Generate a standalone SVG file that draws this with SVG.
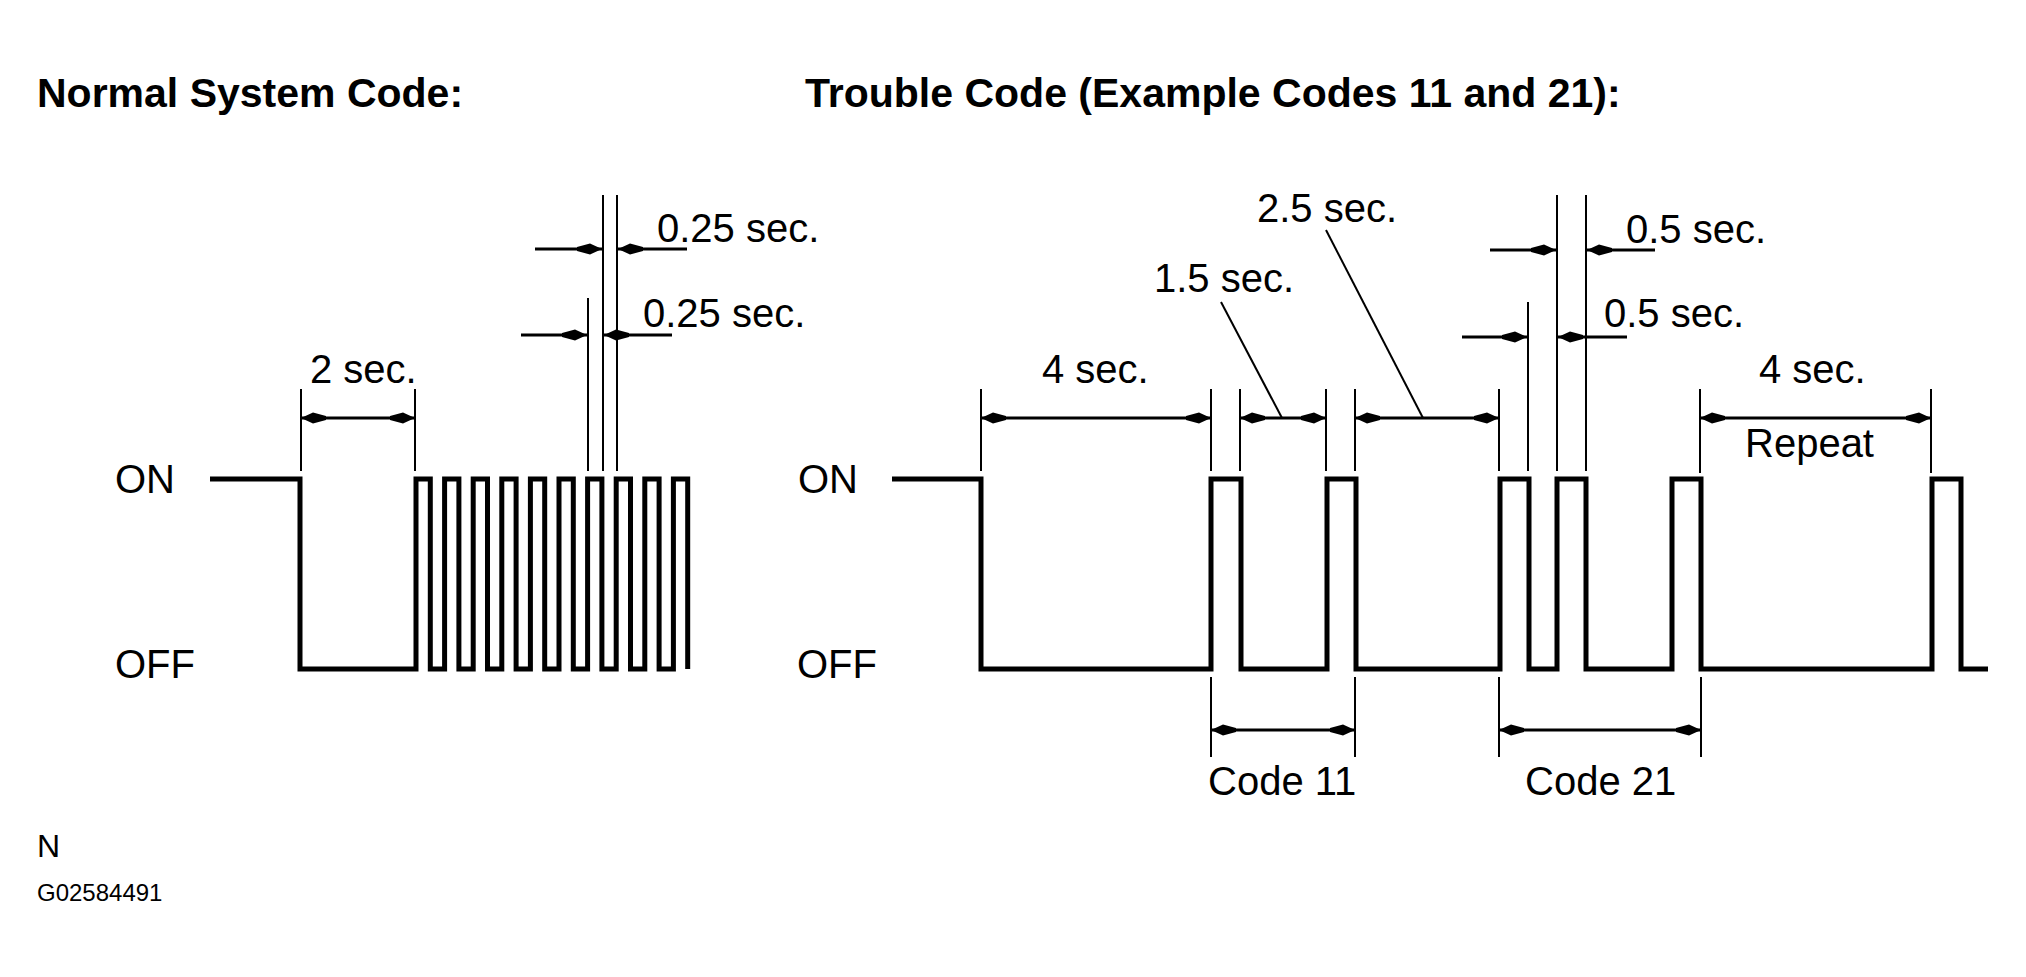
<svg xmlns="http://www.w3.org/2000/svg" width="2026" height="977" viewBox="0 0 2026 977">
<style>
  text { font-family: "Liberation Sans", Arial, sans-serif; fill: #000; }
  .hdr { font-size: 41px; font-weight: bold; }
  .lbl { font-size: 40px; }
  .small { font-size: 24px; }
  .nlbl { font-size: 32px; }
  .wave { fill: none; stroke: #000; stroke-width: 5; stroke-linejoin: miter; stroke-linecap: butt; }
  .ext { fill: none; stroke: #000; stroke-width: 2; }
  .dim2 { fill: none; stroke: #000; stroke-width: 3; marker-end: url(#ah); }
  .dimd { fill: none; stroke: #000; stroke-width: 3; marker-start: url(#ahs); marker-end: url(#ah); }
  .lead { fill: none; stroke: #000; stroke-width: 2; }
</style>
<defs>
  <marker id="ah" markerUnits="userSpaceOnUse" viewBox="-28 -7 30 14" refX="0" refY="0" markerWidth="30" markerHeight="14" orient="auto">
    <path d="M0,0 L-12,-5.5 L-25,-2 L-25,2 L-12,5.5 Z" fill="#000"/>
  </marker>
  <marker id="ahs" markerUnits="userSpaceOnUse" viewBox="-28 -7 30 14" refX="0" refY="0" markerWidth="30" markerHeight="14" orient="auto-start-reverse">
    <path d="M0,0 L-12,-5.5 L-25,-2 L-25,2 L-12,5.5 Z" fill="#000"/>
  </marker>
</defs>
<rect x="0" y="0" width="2026" height="977" fill="#fff"/>

<g id="headers">
  <text class="hdr" x="37" y="107">Normal System Code:</text>
  <text class="hdr" x="805" y="107">Trouble Code (Example Codes 11 and 21):</text>
</g>

<g id="normal-wave">
  <text class="lbl" x="115" y="493">ON</text>
  <text class="lbl" x="115" y="678">OFF</text>
  <path class="wave" d="M210,479 H300 V669 H416 V479 H430.3 V669 H444.6 V479 H458.9 V669 H473.2 V479 H487.5 V669 H501.8 V479 H516.1 V669 H530.4 V479 H544.7 V669 H559 V479 H573.3 V669 H587.6 V479 H601.9 V669 H616.2 V479 H630.5 V669 H644.8 V479 H659.1 V669 H673.4 V479 H687.7 V669"/>
</g>

<g id="trouble-wave">
  <text class="lbl" x="798" y="493">ON</text>
  <text class="lbl" x="797" y="678">OFF</text>
  <path class="wave" d="M892,479 H981 V669 H1211 V479 H1241 V669 H1327 V479 H1356 V669 H1500 V479 H1529 V669 H1557 V479 H1586 V669 H1672 V479 H1701 V669 H1932 V479 H1961 V669 H1988"/>
</g>

<g id="connectors">
  <line class="ext" x1="301" y1="389" x2="301" y2="471"/>
  <line class="ext" x1="415" y1="389" x2="415" y2="471"/>
  <line class="dimd" x1="301" y1="418" x2="415" y2="418"/>
  <line class="ext" x1="588" y1="298" x2="588" y2="471"/>
  <line class="ext" x1="603" y1="195" x2="603" y2="471"/>
  <line class="ext" x1="617" y1="195" x2="617" y2="471"/>
  <line class="dim2" x1="535" y1="249" x2="602" y2="249"/>
  <line class="dim2" x1="687" y1="249" x2="618" y2="249"/>
  <line class="dim2" x1="521" y1="335" x2="587" y2="335"/>
  <line class="dim2" x1="672" y1="335" x2="604" y2="335"/>

  <line class="ext" x1="981" y1="389" x2="981" y2="471"/>
  <line class="ext" x1="1211" y1="389" x2="1211" y2="471"/>
  <line class="dimd" x1="981" y1="418" x2="1211" y2="418"/>
  <line class="ext" x1="1240" y1="389" x2="1240" y2="471"/>
  <line class="ext" x1="1326" y1="389" x2="1326" y2="471"/>
  <line class="dimd" x1="1240" y1="418" x2="1326" y2="418"/>
  <line class="lead" x1="1221" y1="302" x2="1282" y2="418"/>
  <line class="ext" x1="1355" y1="389" x2="1355" y2="471"/>
  <line class="ext" x1="1499" y1="389" x2="1499" y2="471"/>
  <line class="dimd" x1="1355" y1="418" x2="1499" y2="418"/>
  <line class="lead" x1="1326" y1="230" x2="1423" y2="418"/>
  <line class="ext" x1="1528" y1="302" x2="1528" y2="471"/>
  <line class="ext" x1="1557" y1="195" x2="1557" y2="471"/>
  <line class="ext" x1="1586" y1="195" x2="1586" y2="471"/>
  <line class="dim2" x1="1490" y1="250" x2="1556" y2="250"/>
  <line class="dim2" x1="1655" y1="250" x2="1587" y2="250"/>
  <line class="dim2" x1="1462" y1="337" x2="1527" y2="337"/>
  <line class="dim2" x1="1627" y1="337" x2="1558" y2="337"/>
  <line class="ext" x1="1700" y1="389" x2="1700" y2="473"/>
  <line class="ext" x1="1931" y1="389" x2="1931" y2="473"/>
  <line class="dimd" x1="1700" y1="418" x2="1931" y2="418"/>
  <line class="ext" x1="1211" y1="677" x2="1211" y2="757"/>
  <line class="ext" x1="1355" y1="677" x2="1355" y2="757"/>
  <line class="dimd" x1="1211" y1="730" x2="1355" y2="730"/>
  <line class="ext" x1="1499" y1="677" x2="1499" y2="757"/>
  <line class="ext" x1="1701" y1="677" x2="1701" y2="757"/>
  <line class="dimd" x1="1499" y1="730" x2="1701" y2="730"/>
</g>

<g id="labels">
  <text class="lbl" x="310" y="383">2 sec.</text>
  <text class="lbl" x="657" y="242">0.25 sec.</text>
  <text class="lbl" x="643" y="327">0.25 sec.</text>
  <text class="lbl" x="1042" y="383">4 sec.</text>
  <text class="lbl" x="1154" y="292">1.5 sec.</text>
  <text class="lbl" x="1257" y="222">2.5 sec.</text>
  <text class="lbl" x="1626" y="243">0.5 sec.</text>
  <text class="lbl" x="1604" y="327">0.5 sec.</text>
  <text class="lbl" x="1759" y="383">4 sec.</text>
  <text class="lbl" x="1745" y="457">Repeat</text>
  <text class="lbl" x="1208" y="795">Code 11</text>
  <text class="lbl" x="1525" y="795">Code 21</text>
</g>

<g id="footer">
  <text class="nlbl" x="37" y="857">N</text>
  <text class="small" x="37" y="901">G02584491</text>
</g>
</svg>
